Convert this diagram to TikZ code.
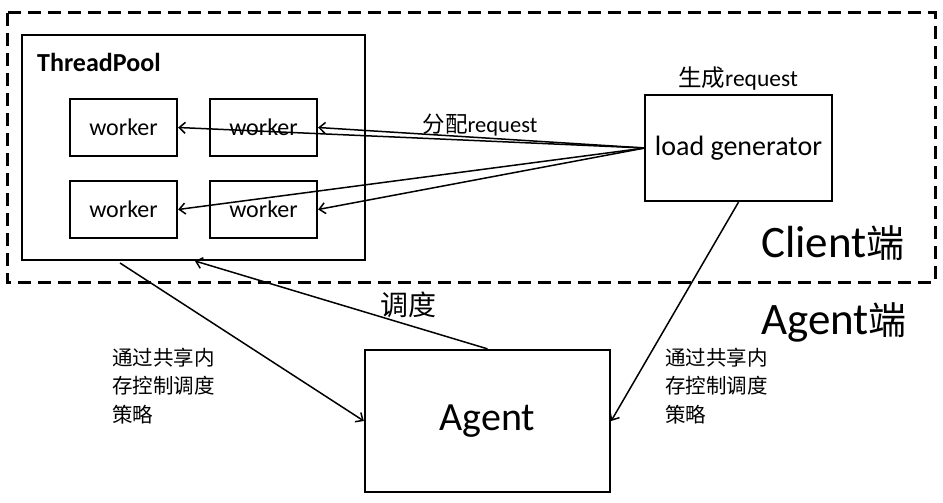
\documentclass[tikz,border=0pt]{standalone}
\usepackage{fontspec}
\setmainfont{Carlito}
\newfontfamily\cjk{Noto Sans CJK SC}
\usetikzlibrary{arrows.meta}
\begin{document}
\begin{tikzpicture}[x=1pt,y=-1pt,
  box/.style={draw,line width=2.3pt,inner sep=0pt,anchor=center},
  wbox/.style={box,minimum width=107pt,minimum height=57pt,font=\fontsize{24}{28}\selectfont},
  conn/.style={line width=1.5pt,-{Straight Barb[length=6pt,width=11pt,line width=1.5pt]}},
  lbl/.style={inner sep=0pt,anchor=center},
  multi/.style={inner sep=0pt,anchor=west,align=left,font=\cjk\fontsize{20.5}{28.5}\selectfont}]
\useasboundingbox (0,0) rectangle (943,503);
\draw[line width=3pt,dash pattern=on 13pt off 7pt] (7,13) rectangle (935,282);
\node[box,minimum width=343pt,minimum height=225pt] (tp) at (193.5,147.5) {};
\node[inner sep=0pt,anchor=west,font=\bfseries\fontsize{26}{30}\selectfont] (tpl) at (37,62) {ThreadPool};
\node[wbox] (w1) at (123.5,127.5) {worker};
\node[wbox] (w2) at (263.5,127.5) {worker};
\node[wbox] (w3) at (123.5,209.5) {worker};
\node[wbox] (w4) at (263.5,209.5) {worker};
\node[box,minimum width=187pt,minimum height=106pt,font=\fontsize{28}{32}\selectfont] (lg) at (738.5,148) {load generator};
\node[lbl,font=\fontsize{23.5}{27}\selectfont] (gen) at (738,79) {{\cjk 生成}request};
\node[lbl,font=\fontsize{22.5}{26}\selectfont] (fp) at (480,125) {{\cjk 分配}request};
\node[lbl,font=\fontsize{45}{50}\selectfont] (client) at (833,243) {Client{\cjk\fontsize{38}{42}\selectfont 端}};
\node[lbl,font=\fontsize{45}{50}\selectfont] (agentside) at (834,322) {Agent{\cjk\fontsize{38}{42}\selectfont 端}};
\node[box,minimum width=245pt,minimum height=142pt,font=\fontsize{40}{44}\selectfont] (agent) at (487.5,421) {Agent};
\node[lbl,font=\cjk\fontsize{28}{32}\selectfont] (dd) at (408,305) {调度};
\node[multi] (lt) at (112,386) {通过共享内\\存控制调度\\策略};
\node[multi] (rt) at (665,386) {通过共享内\\存控制调度\\策略};
\coordinate (src) at (645,148);
\coordinate (a1) at (120,263);
\coordinate (a2) at (195,261);
\draw[conn] (src) -- (w1.east);
\draw[conn] (src) -- (w2.east);
\draw[conn] (src) -- (w3.east);
\draw[conn] (src) -- (w4.east);
\draw[conn] (a1) -- (agent.west);
\draw[conn] (agent.north) -- (a2);
\draw[conn] (lg.south) -- (agent.east);
\end{tikzpicture}
\end{document}
